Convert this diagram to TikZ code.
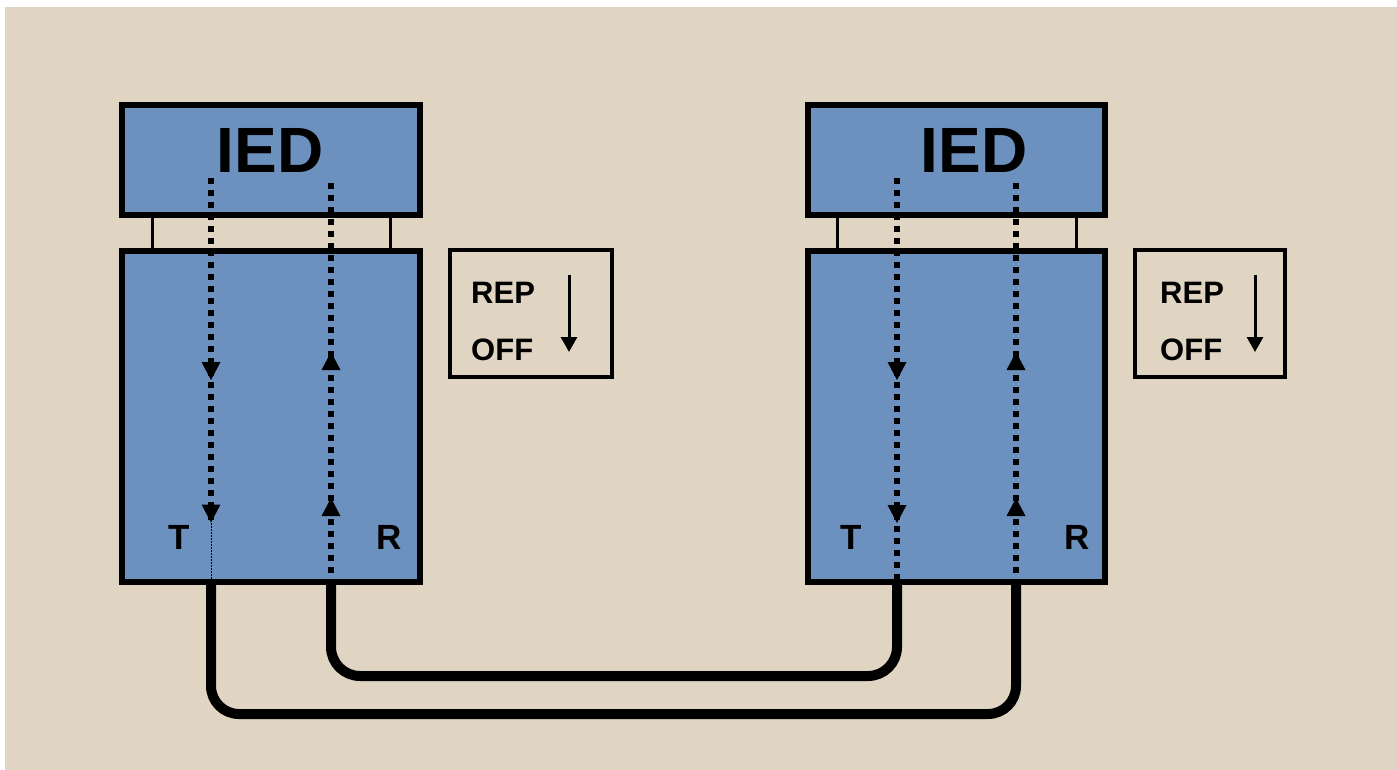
\documentclass[tikz,border=0pt]{standalone}
\usepackage{fontspec}
\setmainfont{Liberation Sans}
\usetikzlibrary{arrows.meta,decorations.markings}
\definecolor{bgbeige}{HTML}{DFD5C2}
\definecolor{iedblue}{HTML}{6D91BF}
\newcommand\iedtip{\fill (0pt,0pt) -- (-18pt,9.5pt) -- (-18pt,-9.5pt) -- cycle;}
\begin{document}
\begin{tikzpicture}[x=1pt,y=-1pt,
  boxstyle/.style={draw=black,fill=iedblue,line width=6pt,rectangle,inner sep=0pt},
  repbox/.style={draw=black,line width=4pt,rectangle,inner sep=0pt},
  iedlabel/.style={font=\bfseries\fontsize{64}{70}\selectfont,inner sep=0pt,anchor=base},
  portlabel/.style={font=\bfseries\fontsize{35}{40}\selectfont,inner sep=0pt,anchor=base},
  replabel/.style={font=\bfseries\fontsize{31}{35}\selectfont,inner sep=0pt,anchor=base west},
  linkline/.style={line width=3pt},
  dotline/.style={line width=6pt,dash pattern=on 6pt off 6pt},
  twotips/.style 2 args={postaction={decorate},decoration={markings,
      mark=at position #1 with {\iedtip},mark=at position #2 with {\iedtip}}},
  reparrow/.style={line width=3pt,-{Triangle[width=16pt,length=15pt]}},
  cable/.style={line width=10pt,line cap=butt}]
\useasboundingbox (0,0) rectangle (1397,770);
\fill[white] (0,0) rectangle (1397,770);
\fill[bgbeige] (5,7) rectangle (1397,770);

% boxes
\node[boxstyle,minimum width=298pt,minimum height=110pt] (ied1) at (271,160) {};
\node[boxstyle,minimum width=298pt,minimum height=331pt] (unit1) at (271,416.5) {};
\node[boxstyle,minimum width=297pt,minimum height=110pt] (ied2) at (956.5,160) {};
\node[boxstyle,minimum width=297pt,minimum height=331pt] (unit2) at (956.5,416.5) {};
\node[repbox,minimum width=162pt,minimum height=127pt] (rep1) at (531,313.5) {};
\node[repbox,minimum width=150pt,minimum height=127pt] (rep2) at (1210,313.5) {};

% links between IED and unit
\draw[linkline] ([xshift=33pt]ied1.south west) -- ([xshift=33pt]unit1.north west);
\draw[linkline] ([xshift=-33pt]ied1.south east) -- ([xshift=-33pt]unit1.north east);
\draw[linkline] ([xshift=32pt]ied2.south west) -- ([xshift=32pt]unit2.north west);
\draw[linkline] ([xshift=-32pt]ied2.south east) -- ([xshift=-32pt]unit2.north east);

% texts
\node[iedlabel] (iedtext1) at (270,173) {IED};
\node[iedlabel] (iedtext2) at (974,173) {IED};
\node[portlabel] (T1) at (179.5,549) {T};
\node[portlabel] (R1) at (389.5,549) {R};
\node[portlabel] (T2) at (851,549) {T};
\node[portlabel] (R2) at (1077,549) {R};
\node[replabel] (rep1a) at (471,303) {REP};
\node[replabel] (rep1b) at (471,360) {OFF};
\node[replabel] (rep2a) at (1160,303) {REP};
\node[replabel] (rep2b) at (1160,360) {OFF};

% REP arrows
\coordinate (rep1top) at (569,275);
\coordinate (rep1bot) at (569,352);
\coordinate (rep2top) at (1255,275);
\coordinate (rep2bot) at (1255,352);
\draw[reparrow] (rep1top) -- (rep1bot);
\draw[reparrow] (rep2top) -- (rep2bot);

% signal paths
\coordinate (t1top) at (211,178);
\coordinate (t1arr) at (211,523);
\coordinate (r1top) at (331,183);
\coordinate (t2top) at (897,178);
\coordinate (r2top) at (1016,183);

\draw[dotline,twotips={202pt}{344.5pt}] (t1top) -- (t1arr);
\draw[line width=1pt,dash pattern=on 1.5pt off 1.5pt] (t1arr) -- (t1top |- unit1.south);
\draw[dotline,twotips={87pt}{233pt}] (r1top |- unit1.south) -- (r1top);
\draw[dotline,twotips={202pt}{345pt}] (t2top) -- (t2top |- unit2.south);
\draw[dotline,twotips={87pt}{233pt}] (r2top |- unit2.south) -- (r2top);

% cables
\draw[cable,rounded corners=28pt] (t1top |- unit1.south) -- (211,714) -- (1016,714) -- (r2top |- unit2.south);
\draw[cable,rounded corners=29pt] (r1top |- unit1.south) -- (331,676) -- (897,676) -- (t2top |- unit2.south);
\end{tikzpicture}
\end{document}
